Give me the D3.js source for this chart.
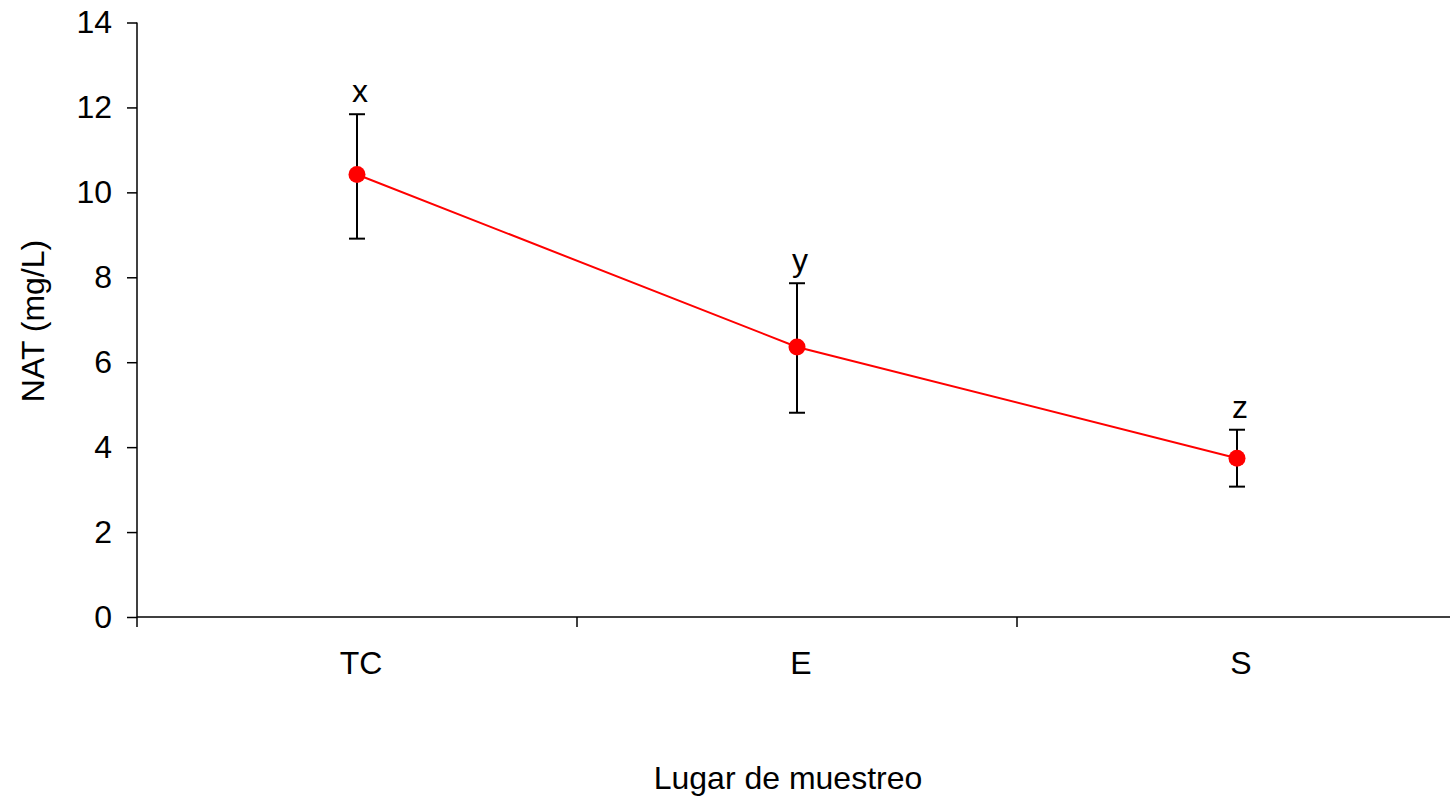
<!DOCTYPE html>
<html>
<head>
<meta charset="utf-8">
<script src="https://cdn.jsdelivr.net/npm/d3@7"></script>
<style>
  html, body { margin: 0; padding: 0; background: #fff; }
  svg { display: block; font-family: Arial, "Liberation Sans", sans-serif; }
</style>
</head>
<body>
<svg id="chart" width="1450" height="799"></svg>
<script>
// Sampling sites and mean NAT concentration with error limits
const sites = ["TC", "E", "S"];
const means = [10.42, 6.36, 3.74];
const upper = [11.84, 7.86, 4.41];
const lower = [8.91, 4.81, 3.07];
const groups = ["x", "y", "z"];
const yTicks = [0, 2, 4, 6, 8, 10, 12, 14];

const svg = d3.select("#chart");
const plotLeft = 137, plotTop = 22.5, plotBottom = 617, bandW = 440;
const fs = 32;

const x = d3.scaleBand().domain(sites).range([plotLeft, plotLeft + bandW * sites.length]).padding(0);
const y = d3.scaleLinear().domain([0, 14]).range([plotBottom, plotTop]);
const cx = d => x(d) + x.bandwidth() / 2;

// Y axis
const yAxis = svg.append("g").attr("transform", `translate(${plotLeft},0)`)
  .call(d3.axisLeft(y).tickValues(yTicks).tickSize(10).tickPadding(15).tickSizeOuter(0));
yAxis.select(".domain").attr("stroke", "#000").attr("stroke-width", 1.5)
  .attr("d", `M0,${plotTop}V${plotBottom + 10}`);
yAxis.selectAll(".tick line").attr("stroke", "#000").attr("stroke-width", 1.5);
yAxis.selectAll(".tick text").attr("font-size", fs).attr("fill", "#000")
  .attr("font-family", "Arial, 'Liberation Sans', sans-serif");

// X axis with ticks between categories
const xg = svg.append("g").attr("transform", `translate(0,${plotBottom})`);
xg.append("line").attr("x1", plotLeft).attr("x2", plotLeft + bandW * sites.length)
  .attr("stroke", "#000").attr("stroke-width", 1.5);
sites.slice(1).forEach(s => {
  xg.append("line").attr("x1", x(s)).attr("x2", x(s)).attr("y1", 0).attr("y2", 10)
    .attr("stroke", "#000").attr("stroke-width", 1.5);
});
xg.selectAll("text.cat").data(sites).join("text").attr("class", "cat")
  .attr("x", d => cx(d) + 4).attr("y", 56.5).attr("text-anchor", "middle")
  .attr("font-size", fs).attr("fill", "#000").text(d => d);

// Axis titles
svg.append("text").attr("x", 788).attr("y", 789).attr("text-anchor", "middle")
  .attr("font-size", fs).attr("fill", "#000").text("Lugar de muestreo");
svg.append("text").attr("transform", "translate(44,321) rotate(-90)").attr("text-anchor", "middle")
  .attr("font-size", fs).attr("fill", "#000").text("NAT (mg/L)");

// Error bars
const eb = svg.append("g").attr("stroke", "#000").attr("stroke-width", 2);
sites.forEach((s, i) => {
  const xc = cx(s);
  eb.append("line").attr("x1", xc).attr("x2", xc).attr("y1", y(upper[i])).attr("y2", y(lower[i]));
  eb.append("line").attr("x1", xc - 8).attr("x2", xc + 8).attr("y1", y(upper[i])).attr("y2", y(upper[i]));
  eb.append("line").attr("x1", xc - 8).attr("x2", xc + 8).attr("y1", y(lower[i])).attr("y2", y(lower[i]));
});

// Mean line and markers
const line = d3.line().x((d, i) => cx(sites[i])).y(d => y(d));
svg.append("path").datum(means).attr("d", line)
  .attr("fill", "none").attr("stroke", "#ff0000").attr("stroke-width", 2);
svg.selectAll("circle.pt").data(means).join("circle").attr("class", "pt")
  .attr("cx", (d, i) => cx(sites[i])).attr("cy", d => y(d)).attr("r", 8.5)
  .attr("fill", "#ff0000");

// Group letters above the error bars
svg.selectAll("text.grp").data(groups).join("text").attr("class", "grp")
  .attr("x", (d, i) => cx(sites[i]) + 3).attr("y", (d, i) => y(upper[i]) - 12)
  .attr("text-anchor", "middle").attr("font-size", fs).attr("fill", "#000").text(d => d);
</script>
</body>
</html>
